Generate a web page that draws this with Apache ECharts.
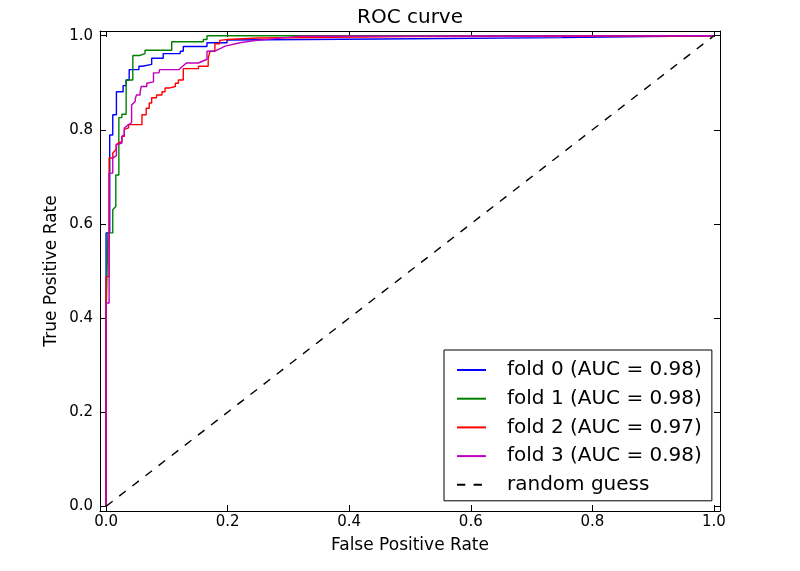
<!DOCTYPE html>
<html>
<head>
<meta charset="utf-8">
<script src="https://cdn.jsdelivr.net/npm/echarts@6/dist/echarts.min.js"></script>
<style>html,body{margin:0;padding:0;background:#fff;}#chart{width:800px;height:571px;}</style>
</head>
<body>
<div id="chart"></div>
<script>
var tickValues = [0, 0.2, 0.4, 0.6, 0.8, 1.0];
var seriesNames = ['fold 0 (AUC = 0.98)', 'fold 1 (AUC = 0.98)', 'fold 2 (AUC = 0.97)', 'fold 3 (AUC = 0.98)', 'random guess'];

var fold0 = [[0,0],[0,0.581],[0.006,0.581],[0.006,0.789],[0.011,0.789],[0.011,0.832],[0.017,0.832],[0.017,0.881],[0.028,0.881],[0.028,0.894],[0.033,0.894],[0.033,0.906],[0.038,0.906],[0.038,0.928],[0.054,0.928],[0.054,0.935],[0.060,0.935],[0.060,0.939],[0.075,0.939],[0.075,0.952],[0.094,0.952],[0.094,0.962],[0.122,0.962],[0.122,0.967],[0.127,0.967],[0.127,0.977],[0.166,0.977],[0.166,0.985],[0.199,0.985],[0.199,0.991],[0.45,0.993],[0.75,0.996],[1,1]];

var fold1 = [[0,0],[0,0.40],[0.003,0.40],[0.003,0.581],[0.011,0.581],[0.011,0.630],[0.016,0.637],[0.016,0.704],[0.021,0.704],[0.021,0.826],[0.026,0.826],[0.026,0.833],[0.033,0.833],[0.033,0.906],[0.044,0.906],[0.044,0.958],[0.055,0.958],[0.055,0.962],[0.064,0.962],[0.064,0.969],[0.108,0.969],[0.108,0.987],[0.160,0.987],[0.160,0.992],[0.166,0.992],[0.166,1.0],[1,1]];

var fold2 = [[0,0],[0,0.488],[0.005,0.488],[0.005,0.740],[0.011,0.740],[0.011,0.751],[0.0165,0.758],[0.0165,0.768],[0.020,0.772],[0.022,0.775],[0.026,0.775],[0.026,0.786],[0.030,0.786],[0.030,0.801],[0.037,0.804],[0.037,0.811],[0.059,0.811],[0.059,0.832],[0.066,0.832],[0.066,0.846],[0.071,0.846],[0.071,0.857],[0.075,0.857],[0.075,0.868],[0.083,0.868],[0.083,0.874],[0.092,0.874],[0.092,0.881],[0.097,0.881],[0.097,0.889],[0.105,0.889],[0.105,0.892],[0.114,0.892],[0.114,0.899],[0.119,0.899],[0.119,0.906],[0.127,0.906],[0.127,0.930],[0.152,0.930],[0.152,0.935],[0.168,0.935],[0.168,0.952],[0.171,0.955],[0.171,0.967],[0.179,0.967],[0.179,0.983],[0.187,0.983],[0.187,0.990],[0.2,0.992],[0.25,0.995],[0.5,0.998],[1,1]];

var fold3 = [[0,0],[0,0.432],[0.005,0.432],[0.005,0.708],[0.011,0.708],[0.011,0.740],[0.017,0.745],[0.017,0.768],[0.026,0.772],[0.026,0.786],[0.030,0.790],[0.030,0.804],[0.037,0.811],[0.042,0.815],[0.042,0.853],[0.048,0.860],[0.048,0.866],[0.050,0.874],[0.056,0.874],[0.056,0.881],[0.058,0.881],[0.058,0.892],[0.067,0.892],[0.067,0.899],[0.078,0.902],[0.078,0.921],[0.087,0.921],[0.088,0.928],[0.120,0.928],[0.132,0.942],[0.152,0.942],[0.152,0.945],[0.166,0.950],[0.166,0.967],[0.179,0.967],[0.190,0.974],[0.196,0.978],[0.22,0.985],[0.248,0.990],[0.32,0.999],[1,1]];

var diagonal = [[0,0],[1,1]];

var colors = ['#0000ff', '#008000', '#ff0000', '#bf00bf', '#000000'];

var chart = echarts.init(document.getElementById('chart'), null, {renderer: 'canvas'});
var FONT = 'DejaVu Sans';
function fmt(v){ return Number(v).toFixed(1); }

var axisCommon = {
  type: 'value', min: -0.01, max: 1.01,
  splitLine: {show: false},
  axisLine: {show: true, onZero: false, lineStyle: {color: '#000', width: 1}},
  axisTick: {show: true, inside: true, length: 6, customValues: tickValues, lineStyle: {color: '#000', width: 1}}
};

function mkAxis(extra){ return Object.assign({}, JSON.parse(JSON.stringify(axisCommon)), extra); }

var LW = 1.4;
var lineSeries = [fold0, fold1, fold2, fold3].map(function(d, i){
  return {
    name: seriesNames[i], type: 'line', data: d, showSymbol: false, symbol: 'none',
    xAxisIndex: 0, yAxisIndex: 0, animation: false,
    lineStyle: {color: colors[i], width: LW}, itemStyle: {color: colors[i]}, z: 2 + i
  };
});
lineSeries.push({
  name: seriesNames[4], type: 'line', data: diagonal, showSymbol: false, symbol: 'none',
  xAxisIndex: 0, yAxisIndex: 0, animation: false,
  lineStyle: {color: '#000', width: LW, type: [8.3, 8.3]}, itemStyle: {color: '#000'}, z: 7
});

chart.setOption({
  animation: false,
  backgroundColor: '#fff',
  title: {text: 'ROC curve', left: 410, textAlign: 'center', top: 8, padding: 0,
    textStyle: {fontFamily: FONT, fontSize: 20, fontWeight: 'normal', color: '#000'}},
  grid: {left: 100, top: 31, right: 80, bottom: 60, containLabel: false},
  xAxis: [
    mkAxis({position: 'bottom', name: 'False Positive Rate', nameLocation: 'middle', nameGap: 26,
      nameTextStyle: {fontFamily: FONT, fontSize: 17, color: '#000'},
      axisLabel: {show: true, customValues: tickValues, formatter: fmt, margin: 4, fontFamily: FONT, fontSize: 15, color: '#000'}}),
    mkAxis({position: 'top', axisLabel: {show: false}})
  ],
  yAxis: [
    mkAxis({position: 'left', name: 'True Positive Rate', nameLocation: 'middle', nameGap: 40, nameRotate: 90,
      nameMoveOverlap: false,
      nameTextStyle: {fontFamily: FONT, fontSize: 17, color: '#000'},
      axisLabel: {show: true, customValues: tickValues, formatter: fmt, margin: 7, fontFamily: FONT, fontSize: 15, color: '#000'}}),
    mkAxis({position: 'right', axisLabel: {show: false}})
  ],
  legend: {
    show: true, orient: 'vertical', left: 444, top: 350,
    data: seriesNames,
    backgroundColor: '#fff', borderColor: '#000', borderWidth: 1, borderRadius: 0,
    padding: [10, 10, 6, 12],
    itemWidth: 29, itemHeight: 14, itemGap: 8.7,
    itemStyle: {opacity: 0},
    textStyle: {fontFamily: FONT, fontSize: 20, color: '#000', lineHeight: 20, padding: [0, 0, 0, 16]},
    selectedMode: false
  },
  series: lineSeries
});
</script>
</body>
</html>
